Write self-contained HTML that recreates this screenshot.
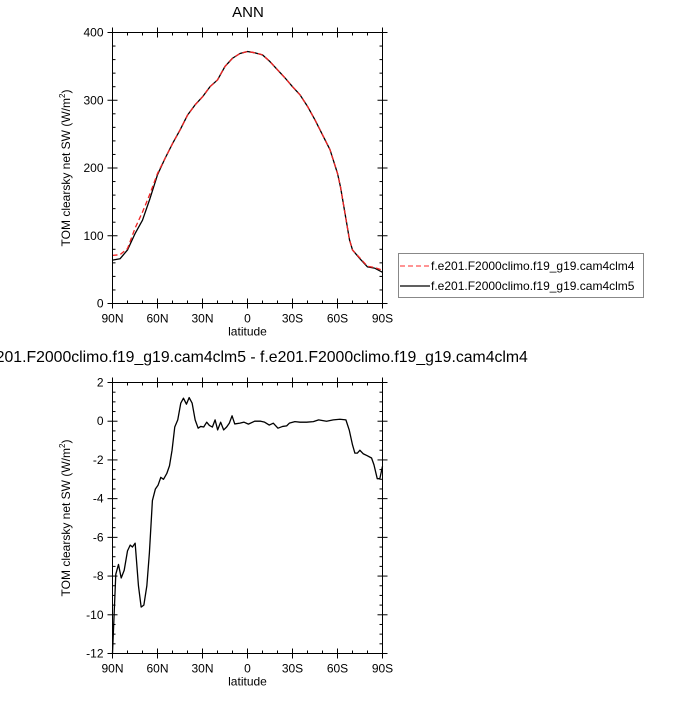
<!DOCTYPE html>
<html><head><meta charset="utf-8"><style>
body{margin:0;background:#fff;width:700px;height:700px;overflow:hidden}
svg{font-family:"Liberation Sans",sans-serif}
</style></head><body>
<svg id="chart" width="700" height="700" xmlns="http://www.w3.org/2000/svg">
<text x="248" y="17" font-size="15" text-anchor="middle">ANN</text>
<text x="253" y="362" font-size="15.8" text-anchor="middle">f.e201.F2000climo.f19_g19.cam4clm5 - f.e201.F2000climo.f19_g19.cam4clm4</text>
<g id="top"></g>
<g id="bot"></g>
<g>
<rect x="398.5" y="253.5" width="245" height="44" fill="#fff" stroke="#888" stroke-width="1"/>
<line x1="400" y1="266" x2="430" y2="266" stroke="#f55" stroke-width="1.3" stroke-dasharray="5,3"/>
<text x="431" y="270" font-size="12">f.e201.F2000climo.f19_g19.cam4clm4</text>
<line x1="400" y1="286" x2="430" y2="286" stroke="#000" stroke-width="1.2"/>
<text x="431" y="290" font-size="12">f.e201.F2000climo.f19_g19.cam4clm5</text>
</g>
</svg>
<script>
const latTop=[90,85,80,75,70,65,60,55,50,45,40,35,30,25,20,15,10,5,0,-5,-10,-15,-20,-25,-30,-35,-40,-45,-50,-55,-60,-62,-65,-68,-70,-75,-80,-85,-90];
const cam5=[64,66,79,103,123,155,190,214,236,256,278,293,305,320,330,350,362,369,372,370,367,357,345,333,320,308,291,271,249,227,192,172,133,94,79,66,54,52,46];
const cam4=[71,72,81,111,135,162,192,214,236,256,278,293,305,320,330,350,362,369,372,370,367,357,345,333,320,308,291,271,249,227,192,172,133,94,79,67,55,53,49];
const latDiff=[90,87.8,86,84.2,82.2,80,78.2,76.7,74.9,72.7,70.9,69.1,67.1,65.4,63.4,61.4,59.6,57.8,56,53.8,52,50.3,48.5,46.5,44.5,42.7,40.7,38.9,36.9,34.9,32.9,31.2,29.2,27.2,25.4,23.4,21.6,19.9,17.9,15.9,13.9,12.1,10.3,8.5,5,2.3,-0.6,-4.8,-8.8,-11.4,-14.5,-17.2,-20.3,-23.4,-26.1,-27.9,-31.6,-35,-39.4,-43.9,-47.4,-52.7,-57.2,-61.6,-65.6,-67.8,-70,-71.6,-73.2,-74.9,-77.1,-79.8,-82.7,-84.3,-86.5,-88.2,-90];
const diff=[-12,-7.9,-7.4,-8.1,-7.7,-6.7,-6.4,-6.5,-6.3,-8.5,-9.6,-9.5,-8.5,-6.8,-4.1,-3.5,-3.3,-2.9,-3.0,-2.7,-2.3,-1.5,-0.3,0.07,0.93,1.19,0.88,1.22,0.93,0.07,-0.36,-0.27,-0.3,-0.05,-0.22,-0.3,0.07,-0.45,-0.05,-0.45,-0.3,-0.1,0.28,-0.14,-0.1,-0.05,-0.15,0,0,-0.05,-0.2,-0.1,-0.36,-0.27,-0.24,-0.1,-0.02,-0.05,-0.05,-0.02,0.07,0,0.07,0.1,0.07,-0.45,-1.22,-1.65,-1.65,-1.5,-1.68,-1.78,-1.9,-2.25,-2.97,-2.97,-2.33];
const xTicks=[90,60,30,0,-30,-60,-90];
const xTickLabels=["90N","60N","30N","0","30S","60S","90S"];
const topYTicks=[0,100,200,300,400];
const botYTicks=[-12,-10,-8,-6,-4,-2,0,2];

const NS="http://www.w3.org/2000/svg";
function mk(p,t,a){const e=document.createElementNS(NS,t);for(const k in a)e.setAttribute(k,a[k]);p.appendChild(e);return e;}
const L=112.5,R=382.5;
const xs=lat=>L+(90-lat)/180*(R-L);
function panel(g,T,B,ymin,ymax,yt,minorStep,name){
  const ys=v=>B-(v-ymin)/(ymax-ymin)*(B-T);
  const tk=mk(g,'g',{stroke:'#000','stroke-width':1});
  
  
  for(let lat=90;lat>=-90;lat-=10){const x=xs(lat),maj=lat%30===0;
    mk(tk,'line',{x1:x,y1:B+(maj?5:0),x2:x,y2:B-(maj?5:3)});
    mk(tk,'line',{x1:x,y1:T-(maj?5:0),x2:x,y2:T+(maj?5:3)});}
  for(let v=ymin;v<=ymax+1e-9;v+=minorStep){const y=ys(v),maj=yt.some(t=>Math.abs(t-v)<1e-6);
    mk(tk,'line',{x1:L-(maj?5:0),y1:y,x2:L+(maj?5:3),y2:y});
    mk(tk,'line',{x1:R+(maj?5:0),y1:y,x2:R-(maj?5:3),y2:y});}
  xTicks.forEach((lat,i)=>{const t=mk(g,'text',{x:xs(lat),y:B+19,'font-size':12,'text-anchor':'middle'});t.textContent=xTickLabels[i];
    
    });
  yt.forEach(v=>{const t=mk(g,'text',{x:L-9,y:ys(v)+4,'font-size':12,'text-anchor':'end'});t.textContent=String(v);
    
    });
  const xl=mk(g,'text',{x:(L+R)/2,y:B+32,'font-size':12,'text-anchor':'middle'});xl.textContent='latitude';
  
  
  const cy=(T+B)/2;
  const yl=mk(g,'text',{x:70,y:cy,'font-size':12,'text-anchor':'middle',transform:`rotate(-90 70 ${cy})`});
  yl.innerHTML='TOM clearsky net SW (W/m<tspan dy="-5" font-size="8">2</tspan><tspan dy="5">)</tspan>';
  
  
  return ys;
}
function line(g,lats,vals,ys,col,dash,name){
  const d=lats.map((l,i)=>(i?'L':'M')+xs(l).toFixed(2)+','+ys(vals[i]).toFixed(2)).join('');
  const p=mk(g,'path',{d:d,fill:'none',stroke:col,'stroke-width':1.3,'stroke-linejoin':'round'});
  if(dash)p.setAttribute('stroke-dasharray',dash);
  
  
}
const gt=document.getElementById('top'),gb=document.getElementById('bot');
const ys1=panel(gt,32.5,303.5,0,400,topYTicks,20,'top');
line(gt,latTop,cam5,ys1,'#000',null,'cam4clm5-line');
line(gt,latTop,cam4,ys1,'#e22','5,3','cam4clm4-line');
mk(gt,'rect',{x:L,y:32.5,width:R-L,height:271,fill:'none',stroke:'#000','stroke-width':1});
const ys2=panel(gb,382.5,653.5,-12,2,botYTicks,0.5,'bottom');
line(gb,latDiff,diff,ys2,'#000',null,'difference-line');
mk(gb,'rect',{x:L,y:382.5,width:R-L,height:271,fill:'none',stroke:'#000','stroke-width':1});
</script>
</body></html>
